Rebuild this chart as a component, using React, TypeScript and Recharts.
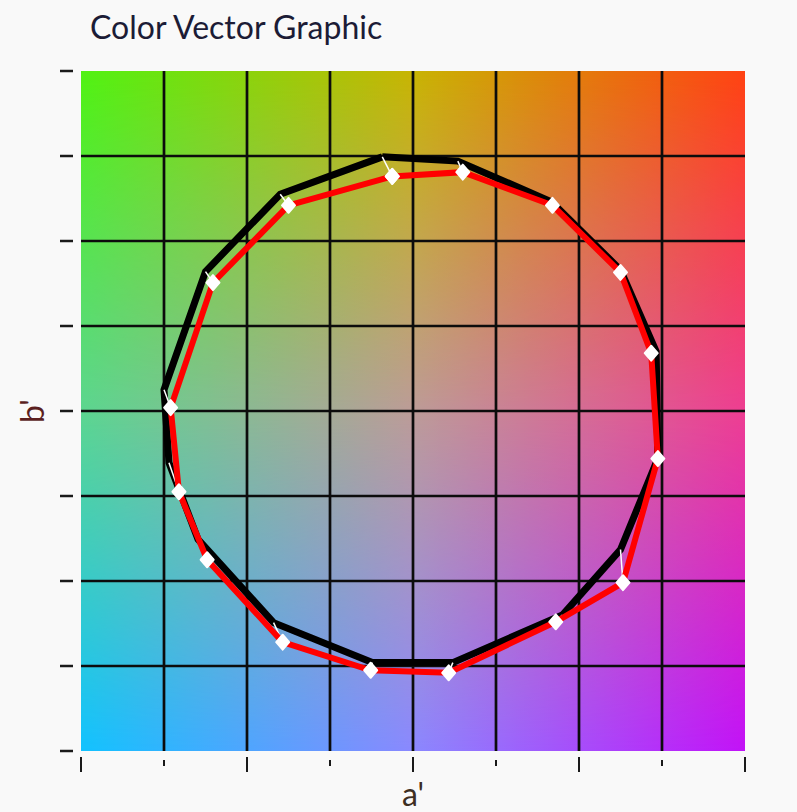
import React from "react";
import {
  ScatterChart,
  Scatter,
  XAxis,
  YAxis,
  ReferenceArea,
  ReferenceLine,
} from "recharts";

// a'/b' axis ticks (no labels shown, only marks)
const AXIS_TICKS = [-40, -30, -20, -10, 0, 10, 20, 30, 40];
const GRID_VALUES = [-30, -20, -10, 0, 10, 20, 30];

// reference polygon (black)
const refA = [-3.7, 5.4, 16.7, 25.0, 29.3, 29.5, 25.0, 18.0, 4.8, -4.9, -16.8, -25.9, -29.4, -30.0, -25.0, -16.0];
const refB = [29.9, 29.4, 24.6, 16.6, 7.0, -5.6, -16.3, -24.0, -29.6, -29.6, -24.9, -15.1, -6.1, 2.5, 16.4, 25.5];

// sample polygon (red, with markers)
const sampleA = [-2.5, 6.0, 16.8, 25.0, 28.7, 29.5, 25.3, 17.2, 4.3, -5.1, -15.7, -24.8, -28.2, -29.2, -24.1, -15.0];
const sampleB = [27.6, 28.1, 24.2, 16.3, 6.8, -5.6, -20.2, -24.8, -30.8, -30.5, -27.2, -17.5, -9.5, 0.4, 15.1, 24.2];

const refPoints = refA.map((a, i) => ({ x: a, y: refB[i] }));
const samplePoints = sampleA.map((a, i) => ({ x: a, y: sampleB[i] }));
const refLoop = [...refPoints, refPoints[0]];
const sampleLoop = [...samplePoints, samplePoints[0]];

const FONT = "Lato, 'Open Sans', sans-serif";

// colour field behind the plot: 3x3 control colours, blended with masks
const ColorField = (props: any) => {
  const { x, y, width, height } = props;
  return (
    <g>
      <defs>
        <linearGradient id="rowTop" x1="0" y1="0" x2="1" y2="0">
          <stop offset="0" stopColor="#50f212" />
          <stop offset="0.5" stopColor="#c8b402" />
          <stop offset="1" stopColor="#ff4212" />
        </linearGradient>
        <linearGradient id="rowMid" x1="0" y1="0" x2="1" y2="0">
          <stop offset="0" stopColor="#5cd690" />
          <stop offset="0.5" stopColor="#bd9c98" />
          <stop offset="1" stopColor="#ee3e92" />
        </linearGradient>
        <linearGradient id="rowBot" x1="0" y1="0" x2="1" y2="0">
          <stop offset="0" stopColor="#12c2ff" />
          <stop offset="0.5" stopColor="#8a88ff" />
          <stop offset="1" stopColor="#c212f8" />
        </linearGradient>
        <linearGradient id="fadeTop" x1="0" y1="0" x2="0" y2="1">
          <stop offset="0" stopColor="#fff" stopOpacity={1} />
          <stop offset="0.5" stopColor="#fff" stopOpacity={0} />
        </linearGradient>
        <linearGradient id="fadeBot" x1="0" y1="0" x2="0" y2="1">
          <stop offset="0.5" stopColor="#fff" stopOpacity={0} />
          <stop offset="1" stopColor="#fff" stopOpacity={1} />
        </linearGradient>
        <mask id="maskTop" maskUnits="userSpaceOnUse" x={x} y={y} width={width} height={height}>
          <rect x={x} y={y} width={width} height={height} fill="url(#fadeTop)" />
        </mask>
        <mask id="maskBot" maskUnits="userSpaceOnUse" x={x} y={y} width={width} height={height}>
          <rect x={x} y={y} width={width} height={height} fill="url(#fadeBot)" />
        </mask>
      </defs>
      <rect x={x} y={y} width={width} height={height} fill="url(#rowMid)" />
      <rect x={x} y={y} width={width} height={height} fill="url(#rowTop)" mask="url(#maskTop)" />
      <rect x={x} y={y} width={width} height={height} fill="url(#rowBot)" mask="url(#maskBot)" />
    </g>
  );
};

const XTick = (props: any) => {
  const { x, y, payload } = props;
  const major = Math.abs(payload.value) % 20 === 0;
  return (
    <line
      x1={x}
      x2={x}
      y1={y + (major ? 6 : 9)}
      y2={y + (major ? 21 : 15)}
      stroke="#1a1a1a"
      strokeWidth={2}
    />
  );
};

const YTick = (props: any) => {
  const { x, y } = props;
  return <line x1={x - 21} x2={x - 8} y1={y} y2={y} stroke="#1a1a1a" strokeWidth={2.5} />;
};

const Diamond = (props: any) => {
  const { cx, cy } = props;
  return (
    <path
      d={`M${cx} ${cy - 7.5} L${cx + 6.5} ${cy} L${cx} ${cy + 7.5} L${cx - 6.5} ${cy} Z`}
      fill="#ffffff"
      stroke="#ffffff"
      strokeWidth={2}
      strokeLinejoin="round"
    />
  );
};

const NoShape = () => <g />;

export default function App() {
  return (
    <div
      style={{
        position: "absolute",
        left: 0,
        top: 0,
        width: 797,
        height: 812,
        background: "#f9f9f9",
        fontFamily: FONT,
      }}
    >
      <div
        style={{
          position: "absolute",
          left: 90,
          top: 11,
          fontSize: 32,
          lineHeight: "32px",
          color: "#1c1c36",
          whiteSpace: "nowrap",
        }}
      >
        Color Vector Graphic
      </div>
      <ScatterChart
        width={797}
        height={812}
        margin={{ top: 71, right: 52, bottom: 0, left: 0 }}
      >
        <XAxis
          type="number"
          dataKey="x"
          domain={[-40, 40]}
          ticks={AXIS_TICKS}
          interval={0}
          tick={(p: any) => <XTick {...p} />}
          tickLine={false}
          axisLine={false}
          tickSize={0}
          tickMargin={0}
          height={61}
          label={{
            value: "a'",
            position: "insideBottom",
            offset: 6,
            fontSize: 32,
            fontFamily: FONT,
            fill: "#3d2f22",
          }}
        />
        <YAxis
          type="number"
          dataKey="y"
          domain={[-40, 40]}
          ticks={AXIS_TICKS}
          interval={0}
          tick={(p: any) => <YTick {...p} />}
          tickLine={false}
          axisLine={false}
          tickSize={0}
          tickMargin={0}
          width={81}
          label={{
            value: "b'",
            angle: -90,
            position: "insideLeft",
            offset: 33,
            fontSize: 32,
            fontFamily: FONT,
            fill: "#5b1f1f",
            textAnchor: "middle",
            style: { textAnchor: "middle" },
          }}
        />
        <ReferenceArea x1={-40} x2={40} y1={-40} y2={40} shape={ColorField} zIndex={-200} />
        {GRID_VALUES.map((v) => (
          <ReferenceLine key={`gx${v}`} x={v} stroke="#0c0c0c" strokeWidth={2.7} zIndex={-150} />
        ))}
        {GRID_VALUES.map((v) => (
          <ReferenceLine key={`gy${v}`} y={v} stroke="#0c0c0c" strokeWidth={2.7} zIndex={-150} />
        ))}
        <Scatter
          data={refLoop}
          line={{ stroke: "#000000", strokeWidth: 7 }}
          shape={NoShape}
          isAnimationActive={false}
          zIndex={600}
        />
        {refPoints.map((p, i) => (
          <ReferenceLine
            key={`vec${i}`}
            segment={[p, samplePoints[i]]}
            stroke="#ffffff"
            strokeWidth={1.5}
            zIndex={650}
          />
        ))}
        <Scatter
          data={sampleLoop}
          line={{ stroke: "#ff0000", strokeWidth: 6 }}
          shape={Diamond}
          isAnimationActive={false}
          zIndex={700}
        />
      </ScatterChart>
    </div>
  );
}
